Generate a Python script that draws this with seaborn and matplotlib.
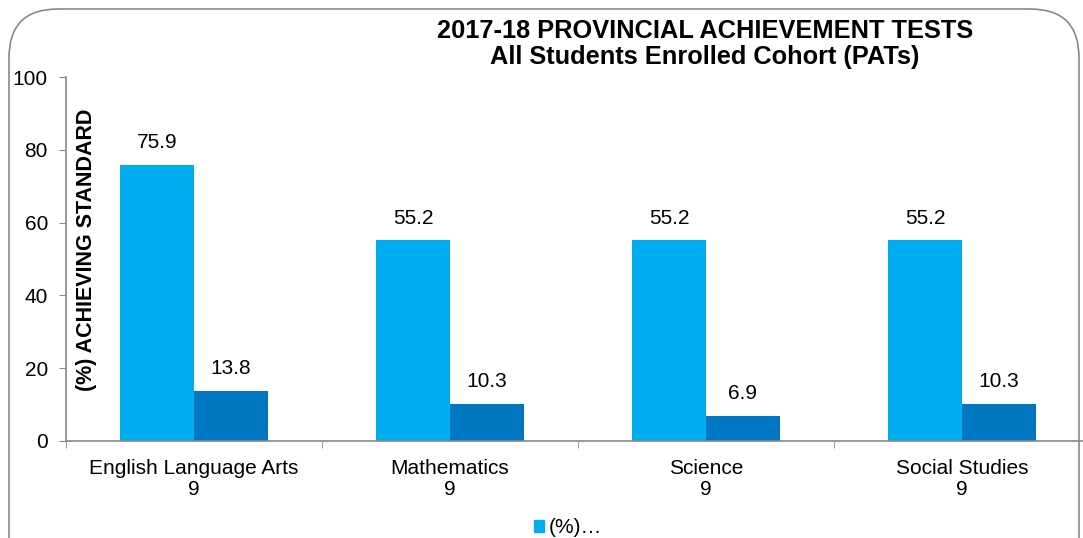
import pandas as pd
import numpy as np
import matplotlib
matplotlib.use("Agg")
import matplotlib.pyplot as plt
import seaborn as sns
from matplotlib.patches import FancyBboxPatch

# Data
subjects = ["English Language Arts\n9", "Mathematics\n9", "Science\n9", "Social Studies\n9"]
series_names = ["(%) Acceptable", "(%) Excellence"]
acceptable = [75.9, 55.2, 55.2, 55.2]
excellence = [13.8, 10.3, 6.9, 10.3]
y_ticks = [0, 20, 40, 60, 80, 100]

df = pd.DataFrame({
    "Subject": subjects * 2,
    "Series": [series_names[0]] * 4 + [series_names[1]] * 4,
    "Value": acceptable + excellence,
})

sns.set_style("white")
plt.rcParams['font.family'] = ['Liberation Sans', 'DejaVu Sans']
plt.rcParams['text.color'] = 'black'
plt.rcParams['xtick.color'] = 'black'
plt.rcParams['ytick.color'] = 'black'

fig = plt.figure(figsize=(10.83, 5.38), dpi=100)
ax = fig.add_axes([66 / 1083, 1 - 441 / 538, 1024 / 1083, (441 - 77) / 538])

sns.barplot(data=df, x="Subject", y="Value", hue="Series",
            palette=["#00AEEF", "#0077C0"], width=0.578, gap=0,
            saturation=1, linewidth=0, ax=ax, legend=False)

# data labels
for cont in ax.containers:
    ax.bar_label(cont, fmt="%.1f", padding=9, fontsize=15)

ax.set_ylim(0, 100)
ax.set_xlim(-0.5, 3.5)
ax.set_yticks(y_ticks)
ax.tick_params(axis='y', labelsize=15, length=5, color='#888888', direction='out', left=True, pad=8)
ax.tick_params(axis='x', labelsize=15, length=0, pad=13)
ax.set_xticks(np.arange(len(subjects) + 1) - 0.5, minor=True)
ax.tick_params(axis='x', which='minor', length=5, color='#888888', bottom=True)
for lbl in ax.get_xticklabels():
    lbl.set_linespacing(1.1)
ax.set_xlabel("")
ax.set_ylabel("")
sns.despine(ax=ax, top=True, right=True)
ax.spines['left'].set_color('#888888')
ax.spines['bottom'].set_color('#888888')
ax.spines['left'].set_linewidth(1.2)
ax.spines['bottom'].set_linewidth(1.2)

fig.text(87 / 1083, 1 - 250 / 538, "(%) ACHIEVING STANDARD", rotation=90,
         ha='center', va='center', fontsize=15.5, fontweight='bold')

fig.text(705 / 1083, 1 - 44 / 538, "2017-18 PROVINCIAL ACHIEVEMENT TESTS\nAll Students Enrolled Cohort (PATs)",
         ha='center', va='center', fontsize=18.3, fontweight='bold', linespacing=1.15)

# legend at the bottom edge
handles = [plt.Rectangle((0, 0), 1, 1, color="#00AEEF")]
fig.legend(handles, ["(%)…"], loc='upper center', bbox_to_anchor=(568 / 1083, 1 - 518 / 538),
           ncol=1, frameon=False, fontsize=15, handlelength=0.5, handleheight=0.5,
           handletextpad=0.2, borderaxespad=0, borderpad=0)

# rounded outer border
border = FancyBboxPatch((9 / 1083, -0.2), 1070 / 1083, 1.2 - 9 / 538,
                        boxstyle="round,pad=0,rounding_size=0.045",
                        transform=fig.transFigure, fill=False, edgecolor='#888888',
                        linewidth=1.2, mutation_aspect=1083 / 538)
fig.patches.append(border)

fig.savefig("out.png", dpi=100)
